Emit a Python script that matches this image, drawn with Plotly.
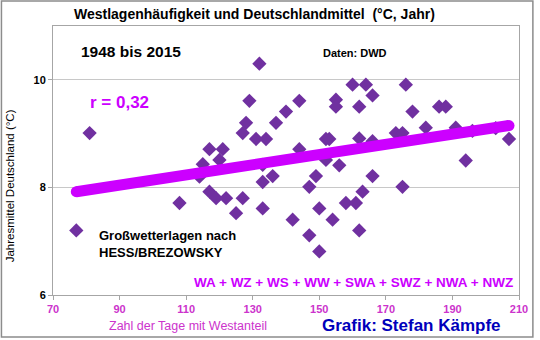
import plotly.graph_objects as go

# Data (days with westerly share vs. German annual mean temperature)
west_days = [77, 81, 108, 115, 114, 117, 121, 120, 128, 127, 131, 134, 117, 119, 122, 127,
             125, 133, 133, 132, 129, 137, 140, 144, 144, 152, 153, 152, 156, 155, 155, 160,
             162, 162, 164, 166, 176, 178, 186, 188, 182, 173, 175, 191, 196, 203, 207, 166,
             194, 136, 149, 147, 150, 154, 158, 161, 147, 150, 162, 142, 166, 163, 175, 133]
temp_mean = [7.20, 9.01, 7.71, 8.43, 8.20, 8.71, 8.71, 8.51, 9.20, 9.01, 8.90, 8.90, 7.92, 7.80, 7.80, 7.80,
             7.52, 8.10, 7.61, 10.30, 9.61, 9.20, 9.41, 9.61, 8.71, 8.90, 8.90, 8.51, 8.41, 9.63, 9.50, 9.91,
             9.50, 8.91, 9.91, 9.71, 9.91, 9.41, 9.50, 9.50, 9.11, 9.01, 9.01, 9.11, 9.05, 9.10, 8.90, 8.86,
             8.50, 8.21, 8.21, 8.01, 7.61, 7.40, 7.71, 7.71, 7.11, 6.81, 7.20, 7.40, 8.21, 7.92, 8.01, 8.42]

# Linear trend line as drawn in the reference (end points)
trend_x = [77, 207]
trend_y = [7.92, 9.15]

x_ticks = [70, 90, 110, 130, 150, 170, 190, 210]
y_ticks = [6, 8, 10]

FONT = "Liberation Sans, Arial, sans-serif"
W, H = 540, 340
L, R, T, B = 53, 523, 26, 295


def px(x):
    return (x - L) / (R - L)


def py(y):
    return (B - y) / (B - T)


fig = go.Figure()
fig.add_trace(go.Scatter(
    x=west_days, y=temp_mean, mode="markers",
    marker=dict(symbol="diamond", size=11, color="#7030A0", line=dict(width=0)),
    showlegend=False, hoverinfo="skip"))
fig.add_trace(go.Scatter(
    x=trend_x, y=trend_y, mode="lines+markers",
    line=dict(color="#CC00FF", width=11),
    marker=dict(symbol="circle", size=11, color="#CC00FF"),
    showlegend=False, hoverinfo="skip"))

ann = []


def add_text(text, x, y, size, color, bold=False, xanchor="center", angle=0):
    ann.append(dict(
        text=f"<b>{text}</b>" if bold else text,
        x=px(x), y=py(y), xref="paper", yref="paper",
        xanchor=xanchor, yanchor="middle", showarrow=False, textangle=angle,
        font=dict(family=FONT, size=size, color=color)))


add_text("Westlagenhäufigkeit und Deutschlandmittel  (°C, Jahr)", 256, 14, 14, "#000000", bold=True)
add_text("1948 bis 2015", 132, 52, 15.5, "#000000", bold=True)
add_text("Daten: DWD", 358, 53, 11, "#000000", bold=True)
add_text("r = 0,32", 120, 102, 17, "#CC00FF", bold=True)
add_text("Großwetterlagen nach", 97, 235, 13, "#000000", bold=True, xanchor="left")
add_text("HESS/BREZOWSKY", 97, 253, 13, "#000000", bold=True, xanchor="left")
add_text("WA + WZ + WS + WW + SWA + SWZ + NWA + NWZ", 356, 282, 13.5, "#CC00FF", bold=True)
add_text("Zahl der Tage mit Westanteil", 189, 326, 12.5, "#CC33CC")
add_text("Grafik: Stefan Kämpfe", 415, 325, 17, "#0000BB", bold=True)
add_text("Jahresmittel Deutschland (°C)", 10, 186, 11.5, "#000000", angle=-90)

fig.update_layout(
    width=W, height=H,
    margin=dict(l=L, r=W - R, t=T, b=H - B, pad=0),
    paper_bgcolor="#FFFFFF", plot_bgcolor="#FFFFFF",
    annotations=ann,
    shapes=[dict(type="rect", xref="paper", yref="paper",
                 x0=px(1), x1=px(537), y0=py(337), y1=py(1),
                 line=dict(color="#8C8C8C", width=1.5), layer="below")],
    xaxis=dict(range=[70, 210], tickvals=x_ticks, ticktext=[f"<b>{v}</b>" for v in x_ticks],
               tickfont=dict(family=FONT, size=11, color="#CC33CC"),
               showgrid=False, zeroline=False, showline=True, linecolor="#A6A6A6", linewidth=1,
               mirror=True, ticks="outside", ticklen=4, tickcolor="#A6A6A6"),
    yaxis=dict(range=[6, 11], tickvals=y_ticks, ticktext=[f"<b>{v}</b>" for v in y_ticks],
               tickfont=dict(family=FONT, size=11, color="#000000"),
               showgrid=True, gridcolor="#C8C8C8", gridwidth=1, zeroline=False,
               showline=True, linecolor="#A6A6A6", linewidth=1, mirror=True,
               ticks="outside", ticklen=4, tickcolor="#A6A6A6"),
)

fig.write_html("out.html")
